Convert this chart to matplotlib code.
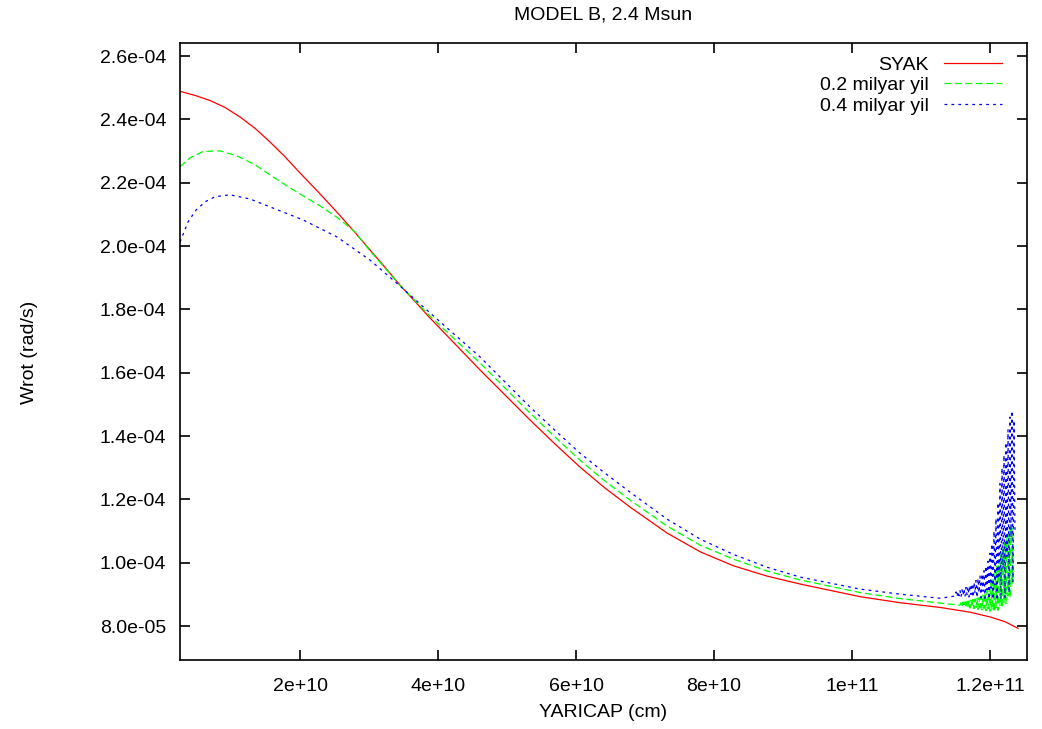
import numpy as np
import matplotlib
matplotlib.use("Agg")
from matplotlib import pyplot as plt

# values (x in 1e10 cm, y in 1e-4 rad/s)
syak_x = np.array([0.261, 0.478, 0.696, 0.913, 1.130, 1.348, 1.565, 1.783, 2.0, 2.290, 2.536,
                   2.797, 3.014, 3.232, 3.449, 3.884, 4.609, 5.333, 5.696, 6.058, 6.420,
                   6.783, 7.319, 7.797, 8.275, 8.768, 9.246, 10.116, 10.696, 11.275, 11.710,
                   12.0, 12.217, 12.406]) * 1e10
syak_y = np.array([2.489, 2.476, 2.460, 2.438, 2.408, 2.372, 2.329, 2.282, 2.231, 2.165, 2.107,
                   2.043, 1.988, 1.933, 1.877, 1.773, 1.609, 1.451, 1.375, 1.302, 1.236,
                   1.176, 1.094, 1.035, 0.991, 0.958, 0.933, 0.893, 0.874, 0.859, 0.844,
                   0.829, 0.814, 0.793]) * 1e-4

g_x = np.array([0.261, 0.406, 0.594, 0.841, 1.087, 1.348, 1.565, 1.812, 2.043, 2.290, 2.536,
                2.797, 3.014, 3.232, 3.449, 3.884, 4.609, 5.333, 5.696, 6.058, 6.420, 6.783,
                7.319, 7.797, 8.275, 8.768, 9.246, 10.116, 10.696, 11.275]) * 1e10
g_y = np.array([2.251, 2.279, 2.299, 2.301, 2.285, 2.257, 2.225, 2.190, 2.159, 2.127, 2.091,
                2.045, 1.985, 1.931, 1.876, 1.779, 1.631, 1.473, 1.397, 1.324, 1.258, 1.198,
                1.116, 1.056, 1.012, 0.974, 0.946, 0.906, 0.887, 0.873]) * 1e-4
# noisy outer part of 0.2 milyar yil
g_tail = np.array([0.866, 0.874, 0.860, 0.876, 0.862, 0.877, 0.858, 0.878, 0.861, 0.880,
                   0.857, 0.882, 0.860, 0.884, 0.855, 0.886, 0.859, 0.888, 0.853, 0.890,
                   0.858, 0.894, 0.851, 0.898, 0.856, 0.905, 0.849, 0.912, 0.855, 0.922,
                   0.847, 0.935, 0.852, 0.950, 0.845, 0.970, 0.858, 0.990, 0.850, 1.010,
                   0.865, 1.030, 0.858, 1.050, 0.875, 1.070, 0.870, 1.085, 0.895, 1.100,
                   0.890, 1.120, 0.930, 1.110]) * 1e-4

b_x = np.array([0.261, 0.377, 0.493, 0.623, 0.768, 0.986, 1.275, 1.565, 2.043, 2.536, 3.014,
                3.232, 3.449, 3.884, 4.609, 5.333, 5.696, 6.058, 6.420, 6.783, 7.319, 7.797,
                8.275, 8.768, 9.246, 10.116, 10.696, 11.275]) * 1e10
b_y = np.array([2.013, 2.077, 2.114, 2.140, 2.156, 2.162, 2.149, 2.124, 2.083, 2.029, 1.956,
                1.915, 1.874, 1.789, 1.650, 1.492, 1.418, 1.346, 1.283, 1.223, 1.138, 1.075,
                1.027, 0.986, 0.955, 0.917, 0.901, 0.888]) * 1e-4
# noisy outer part of 0.4 milyar yil
b_tail = np.array([0.895, 0.908, 0.893, 0.910, 0.896, 0.912, 0.892, 0.915, 0.897, 0.918,
                   0.893, 0.922, 0.899, 0.925, 0.892, 0.930, 0.900, 0.934, 0.891, 0.938,
                   0.903, 0.944, 0.890, 0.950, 0.905, 0.958, 0.889, 0.965, 0.910, 0.975,
                   0.888, 0.990, 0.915, 1.005, 0.886, 1.030, 0.920, 1.060, 0.884, 1.100,
                   0.930, 1.140, 0.882, 1.190, 0.950, 1.250, 0.885, 1.300, 0.980, 1.340,
                   0.890, 1.380, 1.020, 1.420, 0.905, 1.460, 1.080, 1.480, 0.940, 1.450,
                   1.100]) * 1e-4

g_x = np.concatenate([g_x, np.linspace(1.1565e11, 1.2333e11, len(g_tail))])
g_y = np.concatenate([g_y, g_tail])
b_x = np.concatenate([b_x, np.linspace(1.1493e11, 1.2362e11, len(b_tail))])
b_y = np.concatenate([b_y, b_tail])

xticks = [2e10, 4e10, 6e10, 8e10, 1e11, 1.2e11]
yticks = np.arange(8e-5, 2.61e-4, 2e-5)

plt.rcParams['font.family'] = ['Liberation Sans', 'DejaVu Sans']
plt.rcParams['font.size'] = 14
plt.rcParams['lines.scale_dashes'] = False

fig = plt.figure(figsize=(10.42, 7.29), dpi=100)
ax = fig.add_axes([0.17274, 0.09465, 0.81286, 0.84568])

ax.plot(syak_x, syak_y, color='#ff0000', lw=0.9, label='SYAK')
ax.plot(g_x, g_y, color='#00ff00', lw=0.9, dashes=(5, 2.5), label='0.2 milyar yil')
ax.plot(b_x, b_y, color='#0000ff', lw=0.9, dashes=(2, 3), label='0.4 milyar yil')

ax.set_xlim(2.6e9, 1.2536e11)
ax.set_ylim(6.93e-5, 2.64e-4)
ax.set_xticks(xticks)
ax.set_xticklabels(['%g' % v for v in xticks])
ax.set_yticks(yticks)
ax.set_yticklabels(['%.1e' % v for v in yticks])
ax.tick_params(direction='in', length=7, width=1.2, top=True, right=True)
ax.tick_params(axis='x', pad=13)
ax.tick_params(axis='y', pad=10)
for s in ax.spines.values():
    s.set_linewidth(1.2)

leg = ax.legend(loc='upper right', bbox_to_anchor=(0.991, 1.008), frameon=False,
                markerfirst=False, handlelength=3.0, handletextpad=0.75,
                labelspacing=0.15, fontsize=14)

fig.text(0.5792, 0.979, 'MODEL B, 2.4 Msun', ha='center', va='center', fontsize=14)
fig.text(0.5792, 0.0233, 'YARICAP (cm)', ha='center', va='center', fontsize=14)
fig.text(0.028, 0.517, 'Wrot (rad/s)', ha='center', va='center', rotation=90, fontsize=14)

fig.savefig('out.png', dpi=100)
